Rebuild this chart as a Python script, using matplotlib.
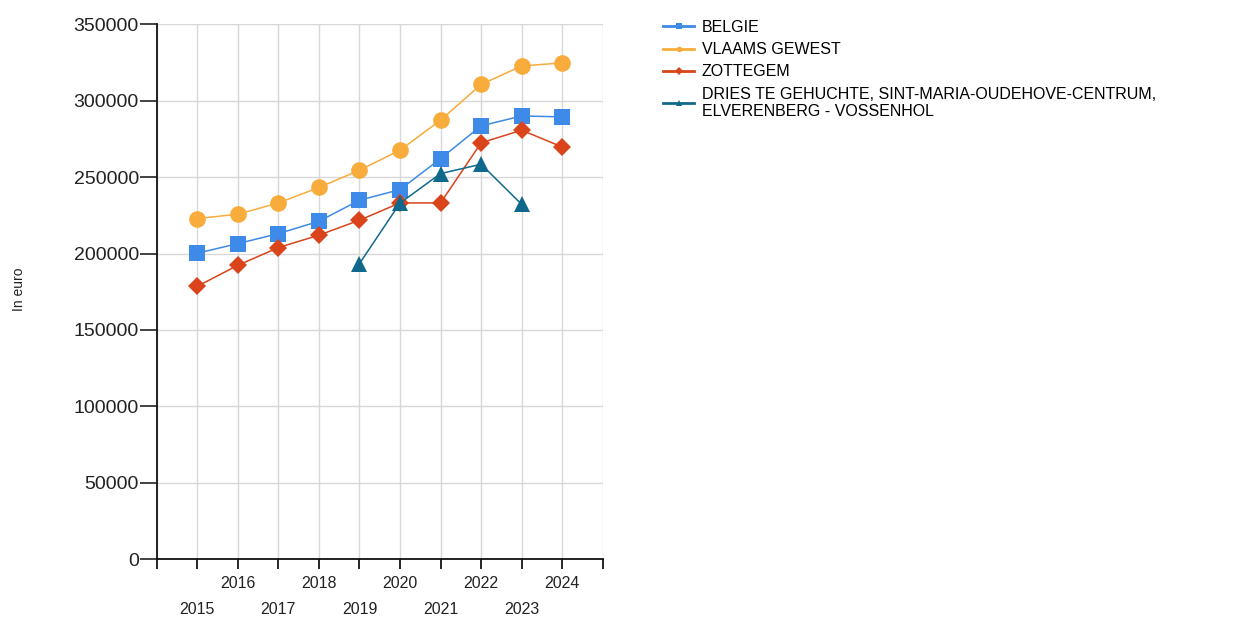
import matplotlib.pyplot as plt
from matplotlib.lines import Line2D
import numpy as np

plt.rcParams['font.family'] = ['Liberation Sans', 'DejaVu Sans']

# mediaanprijs per jaar (in euro)
years = [2015, 2016, 2017, 2018, 2019, 2020, 2021, 2022, 2023, 2024]
belgie = [200200, 206500, 213000, 221100, 234900, 241800, 262100, 283500, 290000, 289400]
vlaams_gewest = [222900, 225700, 233100, 243200, 254500, 267600, 287200, 310600, 322700, 324700]
zottegem = [178600, 192300, 203900, 212000, 221800, 233100, 233100, 272400, 280700, 269700]
# wijk: enkel data voor 2019-2023
dries = [np.nan, np.nan, np.nan, np.nan, 193400, 233000, 252300, 258400, 232200, np.nan]

series = [
    ("BELGIE", belgie, "#3d8ae8", "s", 12),
    ("VLAAMS GEWEST", vlaams_gewest, "#f7ac3c", "o", 12),
    ("ZOTTEGEM", zottegem, "#d9441a", "D", 9),
    ("DRIES TE GEHUCHTE, SINT-MARIA-OUDEHOVE-CENTRUM,\nELVERENBERG - VOSSENHOL", dries, "#10698c", "^", 12),
]

fig = plt.figure(figsize=(12.35, 6.22), dpi=100)
ax = fig.add_axes([0.127, 0.101, 0.361, 0.86])

handles = []
for name, vals, color, marker, ms in series:
    ax.plot(years, vals, color=color, marker=marker, markersize=ms, linewidth=1.1,
            markeredgewidth=0, zorder=3)
    handles.append(Line2D([0], [0], color=color, marker=marker, markersize=4,
                          linewidth=2, markeredgewidth=0, label=name))

ax.set_xlim(2014, 2025)
ax.set_ylim(0, 350000)

# jaartallen afwisselend op twee rijen
xt = list(range(2014, 2026))
xlabels = []
for y in xt:
    if y in (2014, 2025):
        xlabels.append('')
    elif y % 2 == 0:
        xlabels.append(str(y))
    else:
        xlabels.append('\n' + str(y))
ax.set_xticks(xt)
ax.set_xticklabels(xlabels, fontsize=11.5, color='#222222', linespacing=1.95)
ax.set_yticks(range(0, 350001, 50000))
ax.tick_params(axis='y', labelsize=14, length=12, width=1.2, colors='#222222', pad=1)
ax.tick_params(axis='x', length=7, width=1.2, pad=5)

ax.grid(True, color='#d8d8d8', linewidth=1)
ax.set_axisbelow(True)
for s in ['top', 'right']:
    ax.spines[s].set_visible(False)
for s in ['left', 'bottom']:
    ax.spines[s].set_linewidth(1.3)
    ax.spines[s].set_color('#111111')

fig.text(0.015, 0.535, 'In euro', rotation=90, fontsize=10, va='center', ha='center',
         color='#222222')

fig.legend(handles=handles, loc='upper left', bbox_to_anchor=(0.532, 0.978),
           frameon=False, fontsize=11.5, handlelength=1.9, handletextpad=0.5,
           labelspacing=0.45, borderaxespad=0)

fig.savefig('out.png', dpi=100)
